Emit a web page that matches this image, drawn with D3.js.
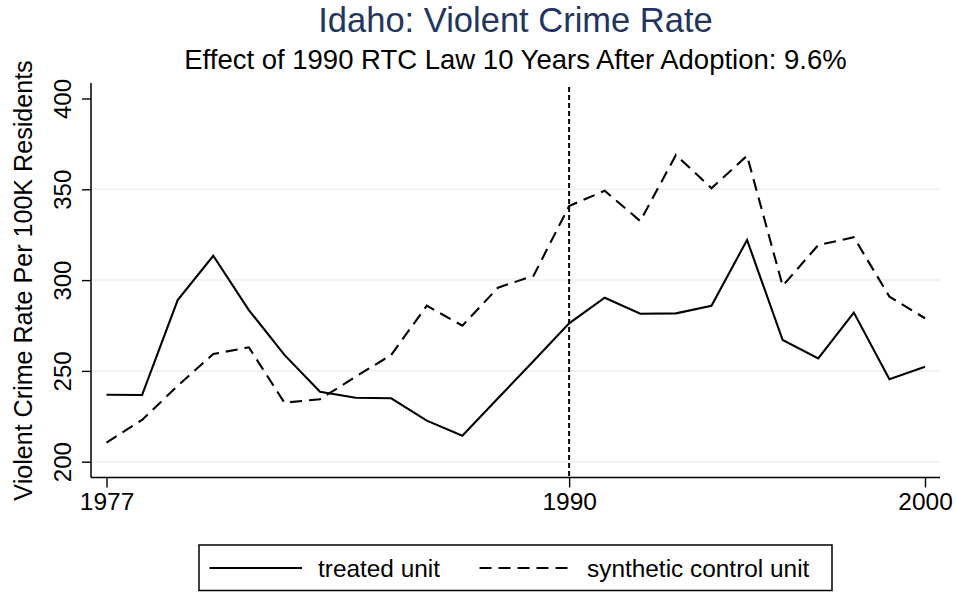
<!DOCTYPE html>
<html>
<head>
<meta charset="utf-8">
<script src="https://cdn.jsdelivr.net/npm/d3@7"></script>
<style>
  html, body { margin: 0; padding: 0; background: #ffffff; }
  svg { display: block; font-family: Arial, "Liberation Sans", Helvetica, sans-serif; }
</style>
</head>
<body>
<svg id="chart" width="956" height="592"></svg>
<script>
// Idaho violent crime rate per 100K residents, treated vs. synthetic control
const years = d3.range(1977, 2001);
const treated = [236.9, 236.7, 289.0, 313.4, 283.5, 258.8, 238.5, 235.2, 234.9, 222.6,
                 214.3, 234.9, 255.5, 276.2, 290.3, 281.5, 281.7, 285.9, 322.1, 267.0,
                 256.9, 282.1, 245.4, 252.3];
const synthetic = [210.5, 223.0, 241.8, 259.3, 263.0, 232.5, 234.4, 246.8, 258.8, 285.9,
                   274.9, 295.8, 302.4, 340.8, 349.2, 332.5, 368.9, 350.6, 368.5, 296.8,
                   319.3, 323.6, 290.9, 279.0];
const xTicks = [1977, 1990, 2000];
const yTicks = [200, 250, 300, 350, 400];
const gridValues = [200, 250, 300, 350];
const adoptionYear = 1990;
const titleText = "Idaho: Violent Crime Rate";
const subtitleText = "Effect of 1990 RTC Law 10 Years After Adoption: 9.6%";
const yTitle = "Violent Crime Rate Per 100K Residents";
const legendLabels = ["treated unit", "synthetic control unit"];

const svg = d3.select("#chart");
const plot = { left: 91, right: 940, top: 83, bottom: 477.5 };

const x = d3.scaleLinear().domain([1977, 2000]).range([106.5, 925]);
const y = d3.scaleLinear().domain([200, 400]).range([461.7, 98.5]);

// horizontal grid
svg.append("g").selectAll("line").data(gridValues).join("line")
  .attr("x1", plot.left).attr("x2", plot.right)
  .attr("y1", d => y(d)).attr("y2", d => y(d))
  .attr("stroke", "#e9f1f3").attr("stroke-width", 1.5);

// axes
const yAxis = d3.axisLeft(y).tickValues(yTicks).tickSize(9).tickFormat(d3.format("d"));
const gy = svg.append("g").attr("transform", `translate(${plot.left},0)`).call(yAxis);
gy.select(".domain").remove();
gy.selectAll(".tick line").attr("stroke", "#000").attr("stroke-width", 1.4);
gy.selectAll(".tick text")
  .attr("x", null).attr("dy", null)
  .attr("transform", "translate(-20,0) rotate(-90)")
  .attr("text-anchor", "middle")
  .attr("font-size", 24).attr("fill", "#000");
svg.append("line")
  .attr("x1", plot.left).attr("x2", plot.left)
  .attr("y1", plot.top).attr("y2", plot.bottom)
  .attr("stroke", "#000").attr("stroke-width", 1.5);

const xAxis = d3.axisBottom(x).tickValues(xTicks).tickSize(10).tickFormat(d3.format("d"));
const gx = svg.append("g").attr("transform", `translate(0,${plot.bottom})`).call(xAxis);
gx.select(".domain").remove();
gx.selectAll(".tick line").attr("stroke", "#000").attr("stroke-width", 1.4);
gx.selectAll(".tick text")
  .attr("y", 32.5).attr("dy", null)
  .attr("font-size", 24.5).attr("fill", "#000");
svg.append("line")
  .attr("x1", plot.left).attr("x2", plot.right)
  .attr("y1", plot.bottom).attr("y2", plot.bottom)
  .attr("stroke", "#000").attr("stroke-width", 1.5);

// adoption year marker
svg.append("line")
  .attr("x1", x(adoptionYear)).attr("x2", x(adoptionYear))
  .attr("y1", 87).attr("y2", plot.bottom)
  .attr("stroke", "#000").attr("stroke-width", 2)
  .attr("stroke-dasharray", "5,3");

// series
const line = d3.line().x((d, i) => x(years[i])).y(d => y(d));
svg.append("path").datum(synthetic)
  .attr("d", line).attr("fill", "none")
  .attr("stroke", "#000").attr("stroke-width", 2.1)
  .attr("stroke-dasharray", "12,7");
svg.append("path").datum(treated)
  .attr("d", line).attr("fill", "none")
  .attr("stroke", "#000").attr("stroke-width", 2.1);

// titles
svg.append("text").text(titleText)
  .attr("x", 515.5).attr("y", 32).attr("text-anchor", "middle")
  .attr("font-size", 34.5).attr("fill", "#22355e");
svg.append("text").text(subtitleText)
  .attr("x", 515.5).attr("y", 69).attr("text-anchor", "middle")
  .attr("font-size", 27.5).attr("fill", "#000");
svg.append("text").text(yTitle)
  .attr("transform", "translate(32,280.5) rotate(-90)")
  .attr("text-anchor", "middle")
  .attr("font-size", 25.1).attr("fill", "#000");

// legend
const lg = svg.append("g");
lg.append("rect")
  .attr("x", 199).attr("y", 545).attr("width", 633).attr("height", 45.5)
  .attr("fill", "#fff").attr("stroke", "#000").attr("stroke-width", 1.5);
const legendY = 568;
lg.append("line").attr("x1", 209.5).attr("x2", 302).attr("y1", legendY).attr("y2", legendY)
  .attr("stroke", "#000").attr("stroke-width", 2.1);
lg.append("text").text(legendLabels[0]).attr("x", 318).attr("y", legendY + 8.5)
  .attr("font-size", 24.4).attr("fill", "#000");
lg.append("line").attr("x1", 479.5).attr("x2", 573).attr("y1", legendY).attr("y2", legendY)
  .attr("stroke", "#000").attr("stroke-width", 2.1).attr("stroke-dasharray", "12,7");
lg.append("text").text(legendLabels[1]).attr("x", 587).attr("y", legendY + 8.5)
  .attr("font-size", 24.4).attr("fill", "#000");
</script>
</body>
</html>
